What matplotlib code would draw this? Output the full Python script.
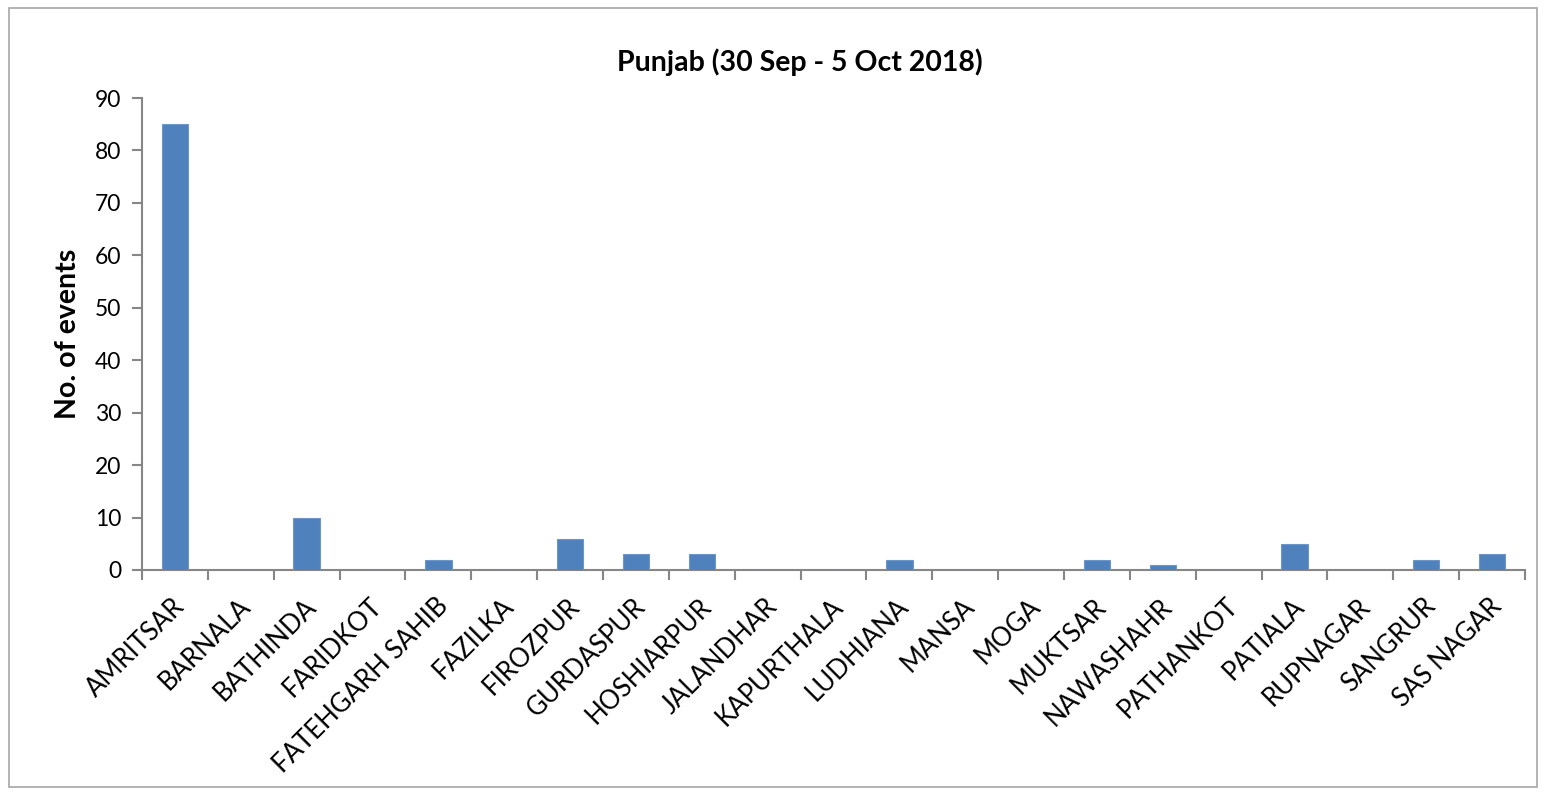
import matplotlib.pyplot as plt
import matplotlib.patches as patches
import numpy as np

districts = ['AMRITSAR', 'BARNALA', 'BATHINDA', 'FARIDKOT', 'FATEHGARH SAHIB',
             'FAZILKA', 'FIROZPUR', 'GURDASPUR', 'HOSHIARPUR', 'JALANDHAR',
             'KAPURTHALA', 'LUDHIANA', 'MANSA', 'MOGA', 'MUKTSAR', 'NAWASHAHR',
             'PATHANKOT', 'PATIALA', 'RUPNAGAR', 'SANGRUR', 'SAS NAGAR']
events = [85, 0, 10, 0, 2, 0, 6, 3, 3, 0, 0, 2, 0, 0, 2, 1, 0, 5, 0, 2, 3]
yticks = [0, 10, 20, 30, 40, 50, 60, 70, 80, 90]

plt.rcParams['font.family'] = ['Lato', 'DejaVu Sans']
axis_grey = '#868686'

fig = plt.figure(figsize=(15.45, 7.92), dpi=100)
ax = fig.add_axes([142 / 1545, 1 - 570 / 792, (1525 - 142) / 1545, (570 - 98) / 792])

x = np.arange(len(districts))
ax.bar(x, events, width=0.4, color='#4F81BD', edgecolor='#6E96C8', linewidth=0.8, zorder=3)

ax.set_xlim(-0.5, len(districts) - 0.5)
ax.set_ylim(0, 90)
ax.set_yticks(yticks)
ax.set_yticklabels([str(v) for v in yticks], fontsize=16.5)

# category ticks sit between the bars
ax.set_xticks(np.arange(-0.5, len(districts), 1.0))
ax.set_xticklabels([])
ax.tick_params(axis='x', direction='out', length=7, width=1.5, color=axis_grey)
ax.tick_params(axis='y', direction='out', length=7, width=1.5, color=axis_grey, pad=8)
for i, name in enumerate(districts):
    ax.text(i - 0.05, -4.5, name, rotation=45, rotation_mode='anchor',
            ha='right', va='top', fontsize=18.5, transform=ax.transData)

for s in ['top', 'right']:
    ax.spines[s].set_visible(False)
for s in ['left', 'bottom']:
    ax.spines[s].set_color(axis_grey)
    ax.spines[s].set_linewidth(1.5)

ax.set_ylabel('No. of events', fontsize=20.5, fontweight='bold', labelpad=10)
fig.text(800 / 1545, 1 - 62 / 792, 'Punjab (30 Sep - 5 Oct 2018)', ha='center', va='center',
         fontsize=20.5, fontweight='bold')

border = patches.Rectangle((9 / 1545, 1 - 787 / 792), (1537 - 9) / 1545, (787 - 8) / 792,
                           transform=fig.transFigure, fill=False, edgecolor='#A6A6A6', linewidth=1.2)
fig.patches.append(border)

fig.savefig('out.png', dpi=100, facecolor='white')
